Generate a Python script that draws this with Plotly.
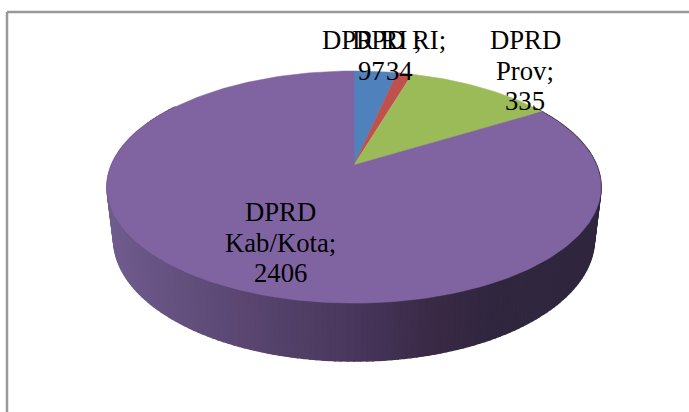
import math
import plotly.graph_objects as go

labels = ["DPR RI ;", "DPD RI;", "DPRD Prov;", "DPRD Kab/Kota;"]
values = [97, 34, 335, 2406]
colors = ["#4F81BD", "#C0504D", "#9BBB59", "#8064A2"]
label_lines = [["DPR RI ;", "97"], ["DPD RI;", "34"], ["DPRD", "Prov;", "335"], ["DPRD", "Kab/Kota;", "2406"]]
label_x = [371, 399, 525, 280]
label_y = [40, 40, 40, 212]
LINE = 30.5

# Perspective disc settings (paper pixels)
CX, TOP_Y0, TOP_A, TOP_B = 354, 165, 242.5, 111.9
BOT_Y0, BOT_A, BOT_B = 216, 236, 117.5
K = 0.19

wall_stops = [(107, (112, 92, 142)), (230, (92, 72, 115)), (354, (72, 55, 92)),
              (430, (58, 42, 70)), (500, (48, 38, 62)), (601, (48, 38, 62))]


def project(deg, y0, a, b):
    t = math.radians(deg)
    d = 1 + K * math.cos(t)
    return CX + a * math.sin(t) / d, y0 - b * math.cos(t) / d


def wall_color(x):
    for (x0, c0), (x1, c1) in zip(wall_stops, wall_stops[1:]):
        if x <= x1:
            f = max(0, (x - x0) / (x1 - x0))
            r, g, b = (round(p + (q - p) * f) for p, q in zip(c0, c1))
            return f"rgb({r},{g},{b})"
    return "rgb(48,38,62)"


fig = go.Figure()

# Side wall, drawn as narrow shaded strips, behind the top surface
step = 1.25
deg = 55.0
while deg < 305:
    a1 = project(deg, TOP_Y0, TOP_A, TOP_B)
    a2 = project(deg + step, TOP_Y0, TOP_A, TOP_B)
    b2 = project(deg + step, BOT_Y0, BOT_A, BOT_B)
    b1 = project(deg, BOT_Y0, BOT_A, BOT_B)
    col = wall_color((a1[0] + a2[0]) / 2)
    fig.add_trace(go.Scatter(
        x=[a1[0], a2[0], b2[0], b1[0], a1[0]], y=[a1[1], a2[1], b2[1], b1[1], a1[1]],
        mode="lines", fill="toself", fillcolor=col, line=dict(color=col, width=1.5),
        hoverinfo="skip", showlegend=False))
    deg += step

# Top surface wedges from the values
total = sum(values)
start = 0.0
for name, val, col in zip(labels, values, colors):
    sweep = val / total * 360
    n = max(4, int(sweep))
    pts = [project(start + sweep * i / n, TOP_Y0, TOP_A, TOP_B) for i in range(n + 1)]
    xs = [CX] + [p[0] for p in pts] + [CX]
    ys = [TOP_Y0] + [p[1] for p in pts] + [TOP_Y0]
    fig.add_trace(go.Scatter(x=xs, y=ys, mode="lines", fill="toself", fillcolor=col,
                             line=dict(color=col, width=0.5), name=name,
                             text=f"{name} {val}", hoverinfo="text", showlegend=False))
    start += sweep

annotations = []
for lines, lx, ly in zip(label_lines, label_x, label_y):
    for i, line in enumerate(lines):
        annotations.append(dict(x=lx, y=ly + i * LINE, text=line, showarrow=False,
                                xref="x", yref="y", xanchor="center", yanchor="middle",
                                font=dict(family="Liberation Serif", size=26.7, color="#000000")))

frame = dict(color="#999999", width=2.5)
fig.update_layout(
    width=689, height=412, margin=dict(l=0, r=0, t=0, b=0),
    paper_bgcolor="white", plot_bgcolor="white", showlegend=False,
    xaxis=dict(range=[0, 689], visible=False, fixedrange=True),
    yaxis=dict(range=[412, 0], visible=False, fixedrange=True),
    annotations=annotations,
    shapes=[dict(type="line", x0=7, x1=689, y0=12, y1=12, xref="x", yref="y", line=frame),
            dict(type="line", x0=7, x1=7, y0=12, y1=412, xref="x", yref="y", line=frame)],
)
fig.write_html("out.html", config={"displayModeBar": False},
               post_script="document.body.style.margin='0';document.documentElement.style.overflow='hidden';")
